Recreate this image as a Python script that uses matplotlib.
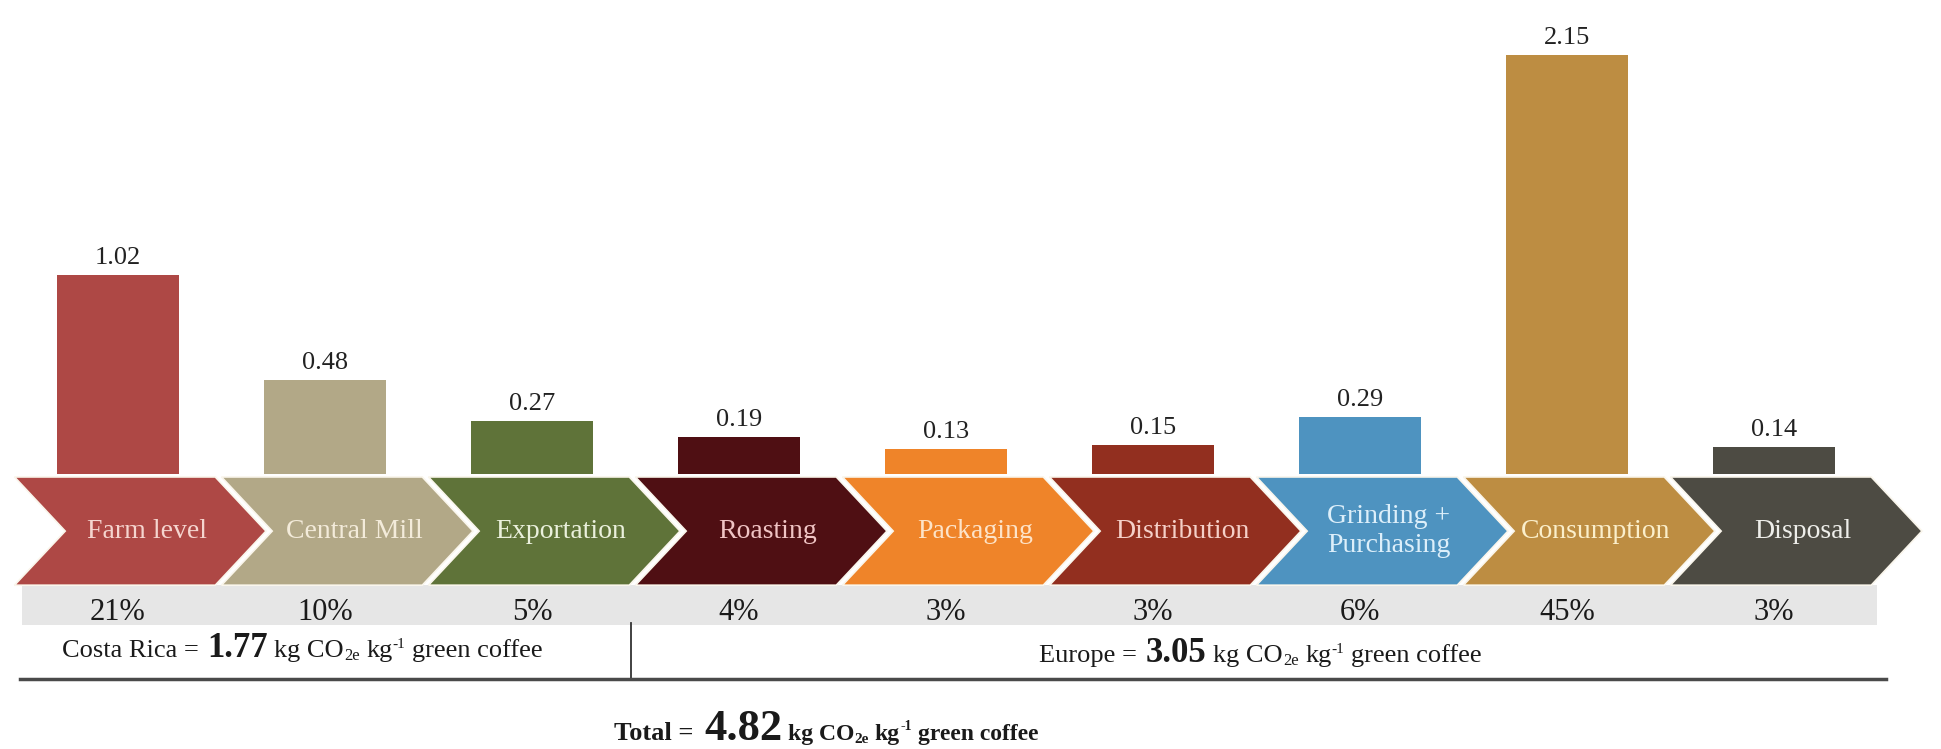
import numpy as np
import matplotlib.pyplot as plt
from matplotlib.patches import Polygon, Rectangle
from matplotlib.transforms import IdentityTransform

stages = ['Farm level', 'Central Mill', 'Exportation', 'Roasting', 'Packaging',
          'Distribution', 'Grinding +\nPurchasing', 'Consumption', 'Disposal']
values = [1.02, 0.48, 0.27, 0.19, 0.13, 0.15, 0.29, 2.15, 0.14]
shares = ['21%', '10%', '5%', '4%', '3%', '3%', '6%', '45%', '3%']
colors = ['#AE4845', '#B2A887', '#5F7339', '#4F0F13', '#EF8429',
          '#922F1F', '#4E93C0', '#BD8D42', '#4D4B43']
text_colors = ['#F5D5CF', '#F3EBDA', '#EAF0DC', '#F0C4C4', '#FDE3C8',
               '#F5D0C8', '#DDEFFA', '#FBEFCB', '#EEEEEA']
costa_rica = '1.77'
europe = '3.05'
total = '4.82'

plt.rcParams['font.family'] = ['Liberation Serif', 'DejaVu Serif']

fig = plt.figure(figsize=(19.41, 7.49), dpi=100)
ax = fig.add_axes([0, 0, 1, 1])
ax.set_xlim(-0.57, 8.807)
ax.set_ylim(-1.41, 2.431)
ax.axis('off')

x = np.arange(len(values))
ax.bar(x, values, width=0.585, color=colors)
for xi, v in zip(x, values):
    ax.annotate(f'{v:.2f}', (xi, v), xytext=(0, 8), textcoords='offset points',
                ha='center', va='baseline', fontsize=19, color='#222222')

# chevrons
top, bot = -0.015, -0.57
mid = (top + bot) / 2
d = 0.245
for i, (c, tc, s) in enumerate(zip(colors, text_colors, stages)):
    l, r = i - 0.5, i + 0.47
    pts = [(l, top), (r, top), (r + d, mid), (r, bot), (l, bot), (l + d, mid)]
    ax.add_patch(Polygon(pts, closed=True, facecolor=c, edgecolor='#FAF6EC', lw=1.2))
    ax.text(i + 0.14, mid, s, ha='center', va='center', fontsize=20,
            color=tc, linespacing=1.2)

# grey band with shares
ax.add_patch(Rectangle((-0.464, -0.775), 8.964, 0.205, facecolor='#E6E6E6',
                       edgecolor='none', zorder=0))
for xi, s in zip(x, shares):
    ax.text(xi, -0.75, s, ha='center', va='baseline', fontsize=22, color='#1a1a1a')

ax.plot([2.48, 2.48], [-0.764, -1.051], color='#333333', lw=1.3)
ax.plot([-0.473, 8.54], [-1.051, -1.051], color='#4A4A4A', lw=2.5)


def rich(xc, y, parts):
    # parts: (text, size, weight, rise_pt, space_before_em)
    rend = fig.canvas.get_renderer()
    x0, y0 = ax.transData.transform((xc, y))
    items = []
    tw = 0
    for s, size, weight, rise, sp in parts:
        t = ax.text(0, 0, s, transform=IdentityTransform(), fontsize=size,
                    fontweight=weight, va='baseline', ha='left', color='#1a1a1a')
        w = t.get_window_extent(rend).width
        gap = sp * size * fig.dpi / 72
        items.append((t, rise, gap, w))
        tw += w + gap
    cx = x0 - tw / 2
    for t, rise, gap, w in items:
        cx += gap
        t.set_position((cx, y0 + rise * fig.dpi / 72))
        cx += w


def co2_line(label, num, size, numsize, weight, small):
    return [(label, size, weight, 0, 0),
            (num, numsize, 'bold', 0, 0.25),
            ('kg CO', size, weight, 0, 0.25),
            ('2e', small, weight, -2, 0),
            ('kg', size, weight, 0, 0.25),
            ('-1', small - 1, weight, 7, 0.03),
            ('green coffee', size, weight, 0, 0.25)]


rich(0.89, -0.94, co2_line('Costa Rica =', costa_rica, 19, 25, 'normal', 12))
rich(5.52, -0.965, co2_line('Europe =', europe, 19, 25, 'normal', 12))
rich(3.42, -1.364, [('Total =', 19, 'bold', 0, 0)] +
     co2_line('', total, 17, 32, 'bold', 11)[1:])

fig.savefig('out.png', dpi=100)
